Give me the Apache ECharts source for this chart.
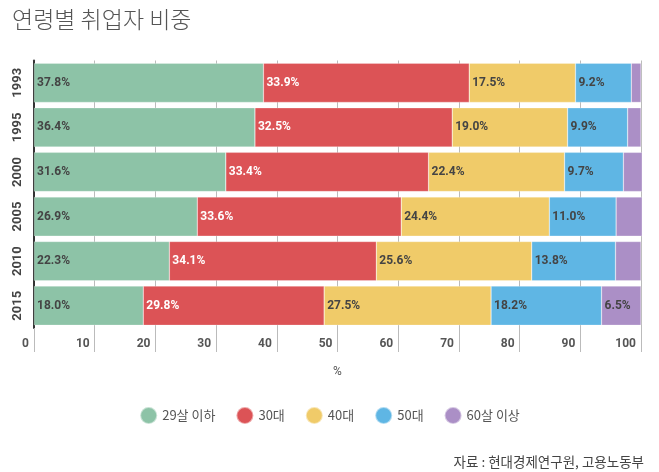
<!DOCTYPE html>
<html><head><meta charset="utf-8">
<script src="https://cdn.jsdelivr.net/npm/echarts@6/dist/echarts.min.js"></script>
<style>html,body{margin:0;padding:0;background:#fff}#c{width:659px;height:472px}</style>
</head><body><div id="c"></div>
<script>
const years = ['1993','1995','2000','2005','2010','2015'];
const under29 = [37.8, 36.4, 31.6, 26.9, 22.3, 18.0];
const age30s = [33.9, 32.5, 33.4, 33.6, 34.1, 29.8];
const age40s = [17.5, 19.0, 22.4, 24.4, 25.6, 27.5];
const age50s = [9.2, 9.9, 9.7, 11.0, 13.8, 18.2];
const over60 = [1.6, 2.2, 3.1, 4.3, 4.2, 6.5];
const seriesNames = ['29살 이하','30대','40대','50대','60살 이상'];
const colors = ['#8dc3a7','#dc5356','#f0cb69','#5fb6e4','#ab8fc6'];
const xTicks = [0,10,20,30,40,50,60,70,80,90,100];

const font = 'Roboto, "Noto Sans CJK KR", sans-serif';
const kfont = '"Noto Sans CJK KR", sans-serif';
const datas = [under29, age30s, age40s, age50s, over60];
const chart = echarts.init(document.getElementById('c'));
chart.setOption({
  animation: false,
  color: colors,
  title: [{
    text: '연령별 취업자 비중', left: 7, top: 3,
    textStyle: {fontFamily: kfont, fontSize: 23, fontWeight: 300, color: '#555'}
  },{
    text: '자료 : 현대경제연구원, 고용노동부', right: 10, top: 450,
    textStyle: {fontFamily: kfont, fontSize: 13.5, fontWeight: 'normal', color: '#444'}
  }],
  legend: {
    data: seriesNames, left: 'center', top: 401, icon: 'circle',
    itemWidth: 17, itemHeight: 17, itemGap: 20,
    textStyle: {fontFamily: kfont, fontSize: 13, color: '#555'}
  },
  grid: {left: 34, right: 18, top: 60.5, bottom: 144},
  xAxis: {
    type: 'value', min: 0, max: 100, interval: 10,
    name: '%', nameLocation: 'middle', nameGap: 38,
    nameTextStyle: {fontFamily: font, fontSize: 12, color: '#555'},
    axisLine: {show: false},
    axisTick: {show: true, length: 24, lineStyle: {color: '#bbb'}},
    splitLine: {show: true, lineStyle: {color: '#bbb'}},
    axisLabel: {
      margin: 10, align: 'right', padding: [0, 5, 0, 0],
      fontFamily: font, fontSize: 12, fontWeight: 'bold', color: '#555',
      formatter: v => xTicks.includes(v) ? String(v) : ''
    }
  },
  yAxis: {
    type: 'category', data: years, inverse: true,
    axisLine: {show: true, lineStyle: {color: '#333', width: 2}},
    axisTick: {show: false},
    axisLabel: {rotate: 90, margin: 10, fontFamily: font, fontSize: 13, fontWeight: 'bold', color: '#444'}
  },
  series: datas.map((d, i) => ({
    name: seriesNames[i], type: 'bar', stack: 'all', data: d,
    barCategoryGap: '12%', clip: false,
    itemStyle: {borderColor: 'rgba(255,255,255,0.5)', borderWidth: 0.5},
    label: {
      show: true, position: 'insideLeft', distance: 3,
      fontFamily: font, fontSize: 12, fontWeight: 'bold',
      color: i === 1 ? '#fff' : '#444',
      formatter: p => p.value >= 5 ? p.value.toFixed(1) + '%' : ''
    }
  }))
});
</script></body></html>
